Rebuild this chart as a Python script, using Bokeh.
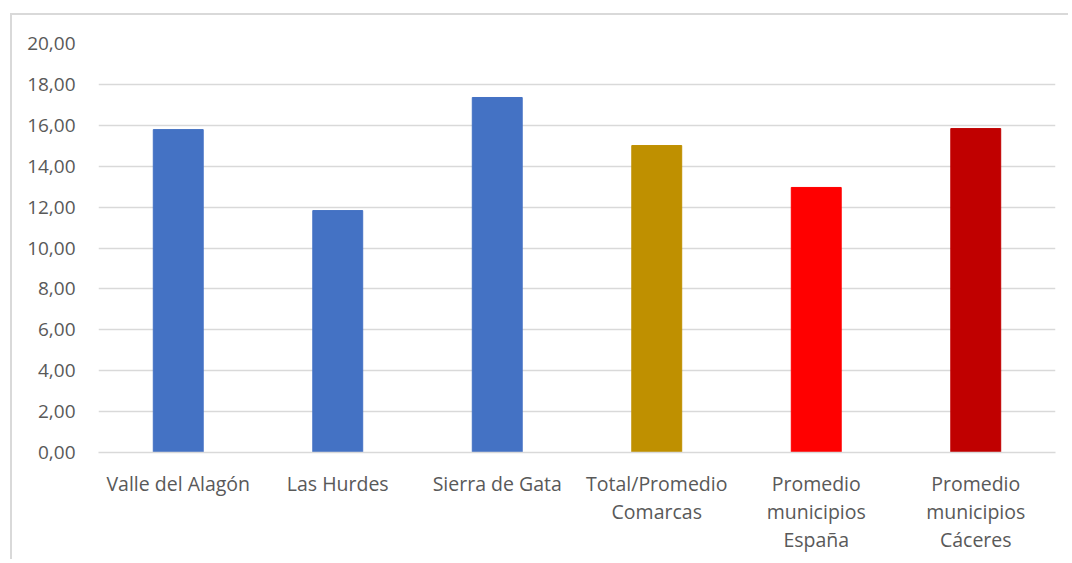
from bokeh.plotting import figure
from bokeh.models import FactorRange, Range1d, ColumnDataSource, FixedTicker, CustomJSTickFormatter, CategoricalAxis
from bokeh.embed import file_html
from bokeh.resources import INLINE

categories = ["Valle del Alagón", "Las Hurdes", "Sierra de Gata",
              "Total/Promedio Comarcas", "Promedio municipios España",
              "Promedio municipios Cáceres"]
tick_labels = ["Valle del Alagón", "Las Hurdes", "Sierra de Gata",
               "Total/Promedio\nComarcas", "Promedio\nmunicipios\nEspaña",
               "Promedio\nmunicipios\nCáceres"]
values = [15.79, 11.83, 17.36, 15.01, 12.96, 15.84]
colors = ["#4472C4", "#4472C4", "#4472C4", "#BF9000", "#FF0000", "#C00000"]
y_ticks = [0, 2, 4, 6, 8, 10, 12, 14, 16, 18, 20]

FONT = "Open Sans"
TXT = "#595959"
GRID = "#d9d9d9"
XFS = "19.5px"

src = ColumnDataSource(dict(cat=categories, val=values, color=colors))

p = figure(x_range=FactorRange(factors=categories), y_range=Range1d(0, 20),
           width=1058, height=546, output_backend="svg", toolbar_location=None,
           min_border_left=86, min_border_right=15, min_border_top=28,
           min_border_bottom=109)
p.styles = {"margin-left": "10px", "margin-top": "13px",
            "border-left": "2px solid #d9d9d9", "border-top": "2px solid #d9d9d9"}

p.vbar(x="cat", top="val", width=0.313, color="color", source=src)

p.outline_line_color = None
p.xgrid.grid_line_color = None
p.ygrid.grid_line_color = GRID
p.ygrid.grid_line_width = 1.5
p.yaxis.ticker = FixedTicker(ticks=y_ticks)
p.yaxis.formatter = CustomJSTickFormatter(code="return tick.toFixed(2).replace('.', ',');")
p.yaxis.axis_line_color = None
p.yaxis.major_tick_line_color = None
p.yaxis.minor_tick_line_color = None
p.yaxis.major_tick_out = 0
p.yaxis.major_label_standoff = 23
p.yaxis.major_label_text_font = FONT
p.yaxis.major_label_text_font_size = "19px"
p.yaxis.major_label_text_color = TXT

# category labels: one stacked axis per text line
lines = [lab.split("\n") for lab in tick_labels]
n_lines = max(len(l) for l in lines)

axes = [p.xaxis[0]]
for j in range(1, n_lines):
    ax = CategoricalAxis()
    p.add_layout(ax, "below")
    axes.append(ax)

for j, ax in enumerate(axes):
    line_j = [(l[j] if j < len(l) else "") for l in lines]
    ax.formatter = CustomJSTickFormatter(
        args=dict(cats=categories, labs=line_j),
        code="const i = cats.indexOf(tick); return i >= 0 ? labs[i] : '';")
    ax.major_tick_line_color = None
    ax.major_tick_out = 0
    ax.major_tick_in = 0
    ax.major_label_standoff = 17 if j == 0 else -2
    ax.major_label_text_font = FONT
    ax.major_label_text_font_size = XFS
    ax.major_label_text_color = TXT
    ax.major_label_orientation = "horizontal"
    if j == 0:
        ax.axis_line_color = GRID
        ax.axis_line_width = 1.5
    else:
        ax.axis_line_color = None

open("out.html", "w").write(file_html(p, INLINE))
